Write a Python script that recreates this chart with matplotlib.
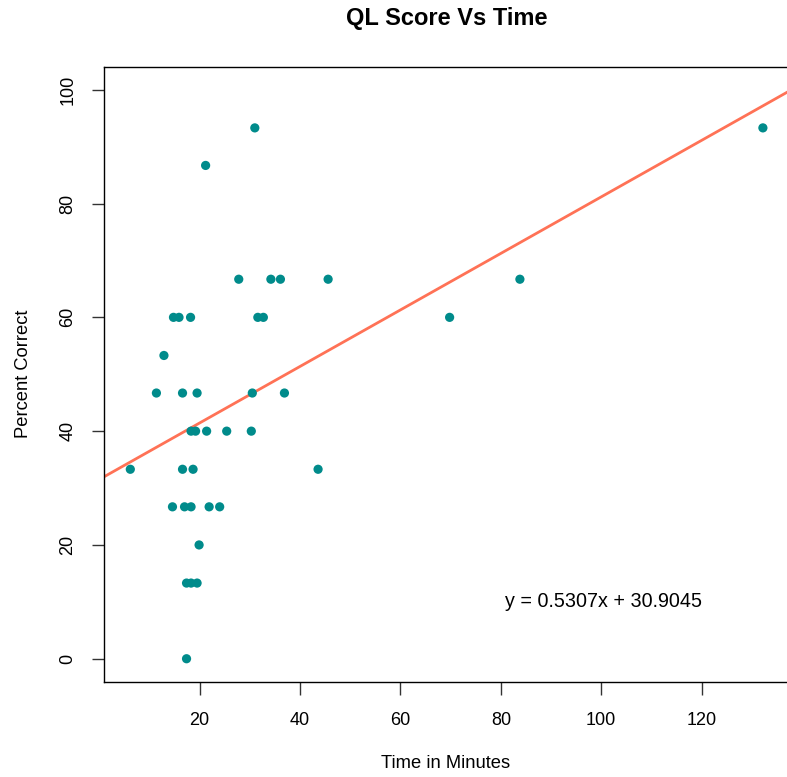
import matplotlib
matplotlib.use("Agg")
import matplotlib.pyplot as plt
import numpy as np

plt.rcParams['font.family'] = ['Liberation Sans', 'DejaVu Sans']

time_min = [31.0, 21.2, 27.8, 34.2, 36.1, 45.6, 14.8, 15.9, 18.2, 31.6,
            32.7, 12.9, 11.4, 16.6, 19.5, 30.5, 36.9, 18.3, 19.2, 21.4,
            25.4, 30.3, 6.2, 16.6, 18.7, 43.6, 14.6, 17.0, 18.3, 21.9,
            24.0, 19.9, 17.4, 18.3, 19.5, 17.4, 69.8, 83.8, 132.2]
pct_correct = [93.3, 86.7, 66.7, 66.7, 66.7, 66.7, 60.0, 60.0, 60.0, 60.0,
               60.0, 53.3, 46.7, 46.7, 46.7, 46.7, 46.7, 40.0, 40.0, 40.0,
               40.0, 40.0, 33.3, 33.3, 33.3, 33.3, 26.7, 26.7, 26.7, 26.7,
               26.7, 20.0, 13.3, 13.3, 13.3, 0.0, 60.0, 66.7, 93.3]
x_ticks = [20, 40, 60, 80, 100, 120]
y_ticks = [0, 20, 40, 60, 80, 100]
equation_label = 'y = 0.5307x + 30.9045'

W, H = 787, 777
fig = plt.figure(figsize=(W / 100, H / 100), dpi=100)
left, right, top, bottom = 104, 788, 67, 681.5
ax = fig.add_axes([left / W, 1 - bottom / H, (right - left) / W, (bottom - top) / H])

ax.scatter(time_min, pct_correct, s=44, color='#008B8B', edgecolors='none', zorder=3)
fit_slope, fit_intercept = np.polyfit(time_min, pct_correct, 1)
ax.axline((0, fit_intercept), slope=fit_slope, color='#FF7256', lw=2.0, zorder=2)

ax.set_xlim(0.96, 137.2)
ax.set_ylim(-4, 104)
ax.set_xticks(x_ticks)
ax.set_yticks(y_ticks)
ax.set_xticklabels([str(v) for v in x_ticks], fontsize=13)
ax.set_yticklabels([str(v) for v in y_ticks], fontsize=13, rotation=90, va='center')
ax.tick_params(axis='both', length=9, width=1.0, color='#333333', direction='out')
ax.tick_params(axis='x', pad=13)
ax.tick_params(axis='y', pad=11)
for sp in ax.spines.values():
    sp.set_linewidth(1.0)
    sp.set_color('black')

ax.text(100.5, 10, equation_label, fontsize=14.2, ha='center', va='center')

fig.text(447 / W, 1 - 19 / H, 'QL Score Vs Time', fontsize=17, fontweight='bold',
         ha='center', va='center')
fig.text(446 / W, 1 - 763 / H, 'Time in Minutes', fontsize=13.2, ha='center', va='center')
fig.text(24 / W, 1 - 374 / H, 'Percent Correct', fontsize=13.2, ha='center', va='center',
         rotation=90)

fig.savefig('out.png', dpi=100)
